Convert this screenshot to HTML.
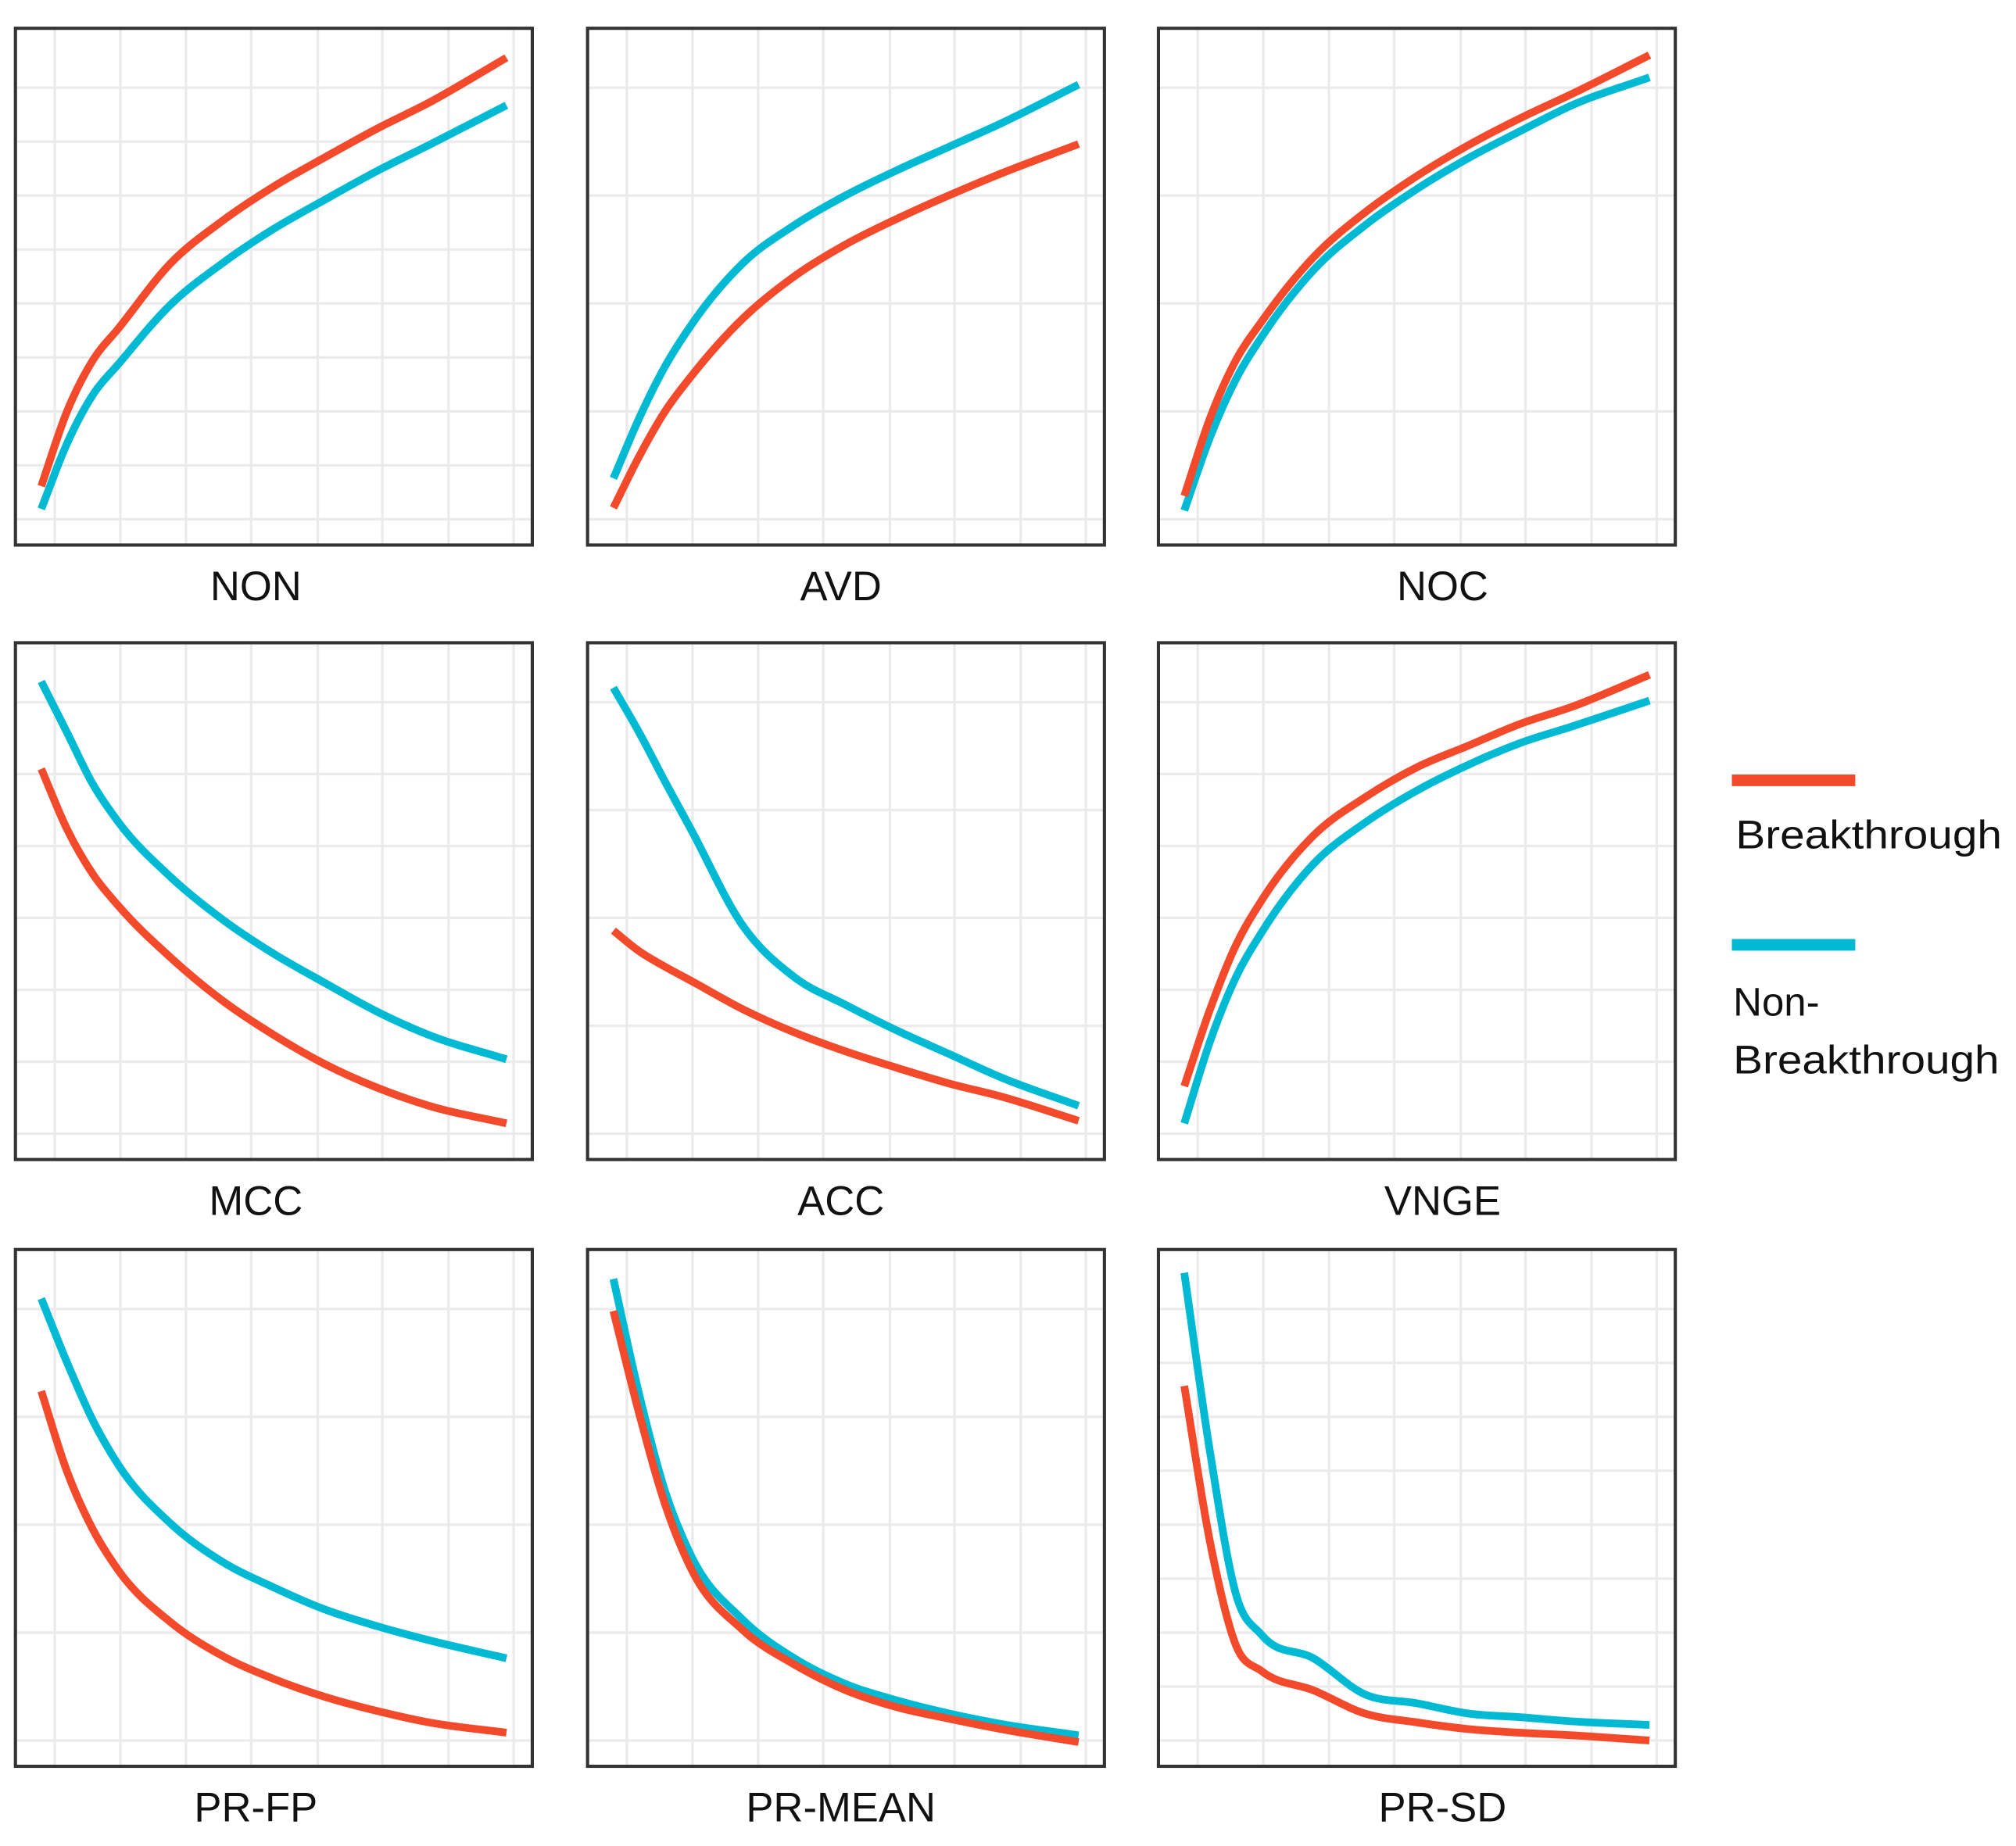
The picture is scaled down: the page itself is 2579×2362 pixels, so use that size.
<!DOCTYPE html>
<html><head><meta charset="utf-8"><style>
html,body{margin:0;padding:0;background:#fff;}
svg{display:block;}
text{font-family:"Liberation Sans",sans-serif;fill:#111;}
</style></head><body>
<svg id="chart" width="2579" height="2362" viewBox="0 0 1568 1436" preserveAspectRatio="none" xmlns="http://www.w3.org/2000/svg">
<g id="panels"></g>
<g>
  <line x1="1347" y1="607" x2="1443" y2="607" stroke="#f44a2c" stroke-width="9"/>
  <text x="1350" y="660" font-size="31" textLength="207" lengthAdjust="spacingAndGlyphs">Breakthrough</text>
  <line x1="1347" y1="735" x2="1443" y2="735" stroke="#00b9d3" stroke-width="9"/>
  <text x="1348" y="790" font-size="31">Non-</text>
  <text x="1348" y="835" font-size="31" textLength="207" lengthAdjust="spacingAndGlyphs">Breakthrough</text>
</g>
</svg>
<script>
// shared x positions (fraction of panel width)
const xFractions = [0.05,0.10,0.15,0.20,0.30,0.40,0.50,0.60,0.70,0.80,0.95];
const panelNames = ["NON","AVD","NOC","MCC","ACC","VNGE","PR-FP","PR-MEAN","PR-SD"];
// Values as % of panel height (0 bottom, 100 top)
const breakthroughNON = [11.4,25.9,35.8,42.0,54.5,62.7,69.4,75.1,80.6,85.6,94.3];
const nonBreakthroughNON = [7.0,19.7,29.1,35.1,46.5,54.5,61.2,66.9,72.4,77.4,85.1];
const breakthroughAVD = [7.2,17.2,25.9,32.6,43.8,52.0,58.2,63.2,67.7,71.9,77.6];
const nonBreakthroughAVD = [12.9,24.6,34.6,42.5,54.5,61.9,67.7,72.6,77.1,81.6,89.1];
const breakthroughNOC = [9.5,24.6,35.8,43.3,55.7,64.4,71.4,77.4,82.6,87.3,94.8];
const nonBreakthroughNOC = [6.7,20.9,32.1,40.3,53.2,61.9,68.9,74.9,80.1,85.1,90.5];
const breakthroughMCC = [75.6,63.9,55.2,49.0,39.1,30.8,24.1,18.4,13.9,10.4,7.0];
const nonBreakthroughMCC = [92.5,82.6,72.6,65.2,54.7,46.5,39.8,34.1,28.6,24.1,19.4];
const breakthroughACC = [44.3,40.3,37.3,34.6,29.1,24.6,20.9,17.7,14.7,12.2,7.5];
const nonBreakthroughACC = [91.3,82.6,73.1,63.9,45.3,35.3,29.9,24.9,20.4,15.9,10.4];
const breakthroughVNGE = [14.2,29.1,41.5,50.2,62.7,70.1,75.9,80.1,84.3,87.6,93.8];
const nonBreakthroughVNGE = [7.0,22.9,35.3,44.0,57.2,65.2,71.4,76.4,80.6,83.8,88.8];
const breakthroughPRFP = [72.6,57.0,45.8,37.8,27.9,21.4,16.9,13.4,10.7,8.5,6.5];
const nonBreakthroughPRFP = [90.5,78.1,66.9,58.2,47.0,39.6,34.6,30.3,27.1,24.4,20.9];
const breakthroughPRMEAN = [88.1,68.2,50.7,38.3,26.4,19.7,14.7,11.4,9.2,7.2,4.7];
const nonBreakthroughPRMEAN = [94.3,71.9,53.2,40.8,28.4,20.9,15.9,12.7,10.2,8.2,6.0];
const breakthroughPRSD = [73.6,43.3,23.4,18.4,14.7,10.2,8.5,7.2,6.5,6.0,5.0];
const nonBreakthroughPRSD = [95.5,60.7,33.3,25.4,20.9,13.9,12.2,10.2,9.5,8.7,8.0];
const breakthroughSeries = [breakthroughNON,breakthroughAVD,breakthroughNOC,breakthroughMCC,breakthroughACC,breakthroughVNGE,breakthroughPRFP,breakthroughPRMEAN,breakthroughPRSD];
const nonBreakthroughSeries = [nonBreakthroughNON,nonBreakthroughAVD,nonBreakthroughNOC,nonBreakthroughMCC,nonBreakthroughACC,nonBreakthroughVNGE,nonBreakthroughPRFP,nonBreakthroughPRMEAN,nonBreakthroughPRSD];
const hGridCounts = [9,5,5,7,5,7,5,5,9];

const NS = "http://www.w3.org/2000/svg";
const colX = [12,457,901], rowY = [22,500,972], W = 402, H = 402;
const labelCX = [199,654,1122];
const vGrid = [0.076,0.203,0.330,0.456,0.585,0.710,0.838,0.964];
const root = document.getElementById('panels');
function mk(tag, attrs, parent){const e=document.createElementNS(NS,tag);for(const k in attrs)e.setAttribute(k,attrs[k]);parent.appendChild(e);return e;}
function pathFor(vals, sx, sy){
  const p = vals.map((v,i)=>[sx(xFractions[i]), sy(v)]);
  const n = p.length, h=[], d=[], m=[];
  for(let i=0;i<n-1;i++){h[i]=p[i+1][0]-p[i][0]; d[i]=(p[i+1][1]-p[i][1])/h[i];}
  m[0]=d[0]; m[n-1]=d[n-2];
  for(let i=1;i<n-1;i++) m[i]=(h[i]*d[i-1]+h[i-1]*d[i])/(h[i-1]+h[i]);
  let s = `M${p[0][0]},${p[0][1]}`;
  for(let i=0;i<n-1;i++){
    const t=h[i]/3;
    s+=` C${p[i][0]+t},${p[i][1]+m[i]*t} ${p[i+1][0]-t},${p[i+1][1]-m[i+1]*t} ${p[i+1][0]},${p[i+1][1]}`;
  }
  return s;
}
panelNames.forEach((name,i)=>{
  const x0 = colX[i%3], y0 = rowY[Math.floor(i/3)];
  const sx = f => x0 + f*W;
  const sy = v => y0 + H - v/100*H;
  const g = mk('g',{},root);
  
  
  const n = hGridCounts[i];
  for(let k=0;k<n;k++){
    const y = y0 + H*(0.115 + k*(0.835/(n-1)));
    const l = mk('line',{x1:x0,x2:x0+W,y1:y,y2:y,stroke:'#ebebeb','stroke-width':2},g);
    
    
  }
  vGrid.forEach(f=>{
    const l = mk('line',{x1:sx(f),x2:sx(f),y1:y0,y2:y0+H,stroke:'#ebebeb','stroke-width':2},g);
    
    
  });
  const nb = mk('path',{d:pathFor(nonBreakthroughSeries[i],sx,sy),fill:'none',stroke:'#00b9d3','stroke-width':6,'stroke-linecap':'butt'},g);
  
  
  const b = mk('path',{d:pathFor(breakthroughSeries[i],sx,sy),fill:'none',stroke:'#f44a2c','stroke-width':6,'stroke-linecap':'butt'},g);
  
  
  const fr = mk('rect',{x:x0,y:y0,width:W,height:H,fill:'none',stroke:'#333','stroke-width':2.5},g);
  
  
  const t = mk('text',{x:labelCX[i%3],y:y0+H+43,'font-size':32,'text-anchor':'middle'},g);
  t.textContent = name;
  
  
});
</script>
</body></html>
